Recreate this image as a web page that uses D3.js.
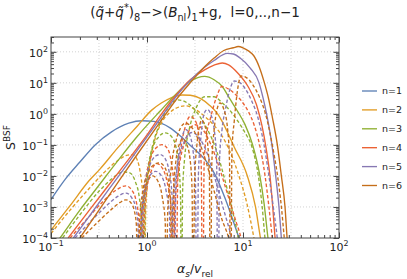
<!DOCTYPE html>
<html>
<head>
<meta charset="utf-8">
<script src="https://d3js.org/d3.v7.min.js"></script>
<style>
  body { margin: 0; background: #fff; }
  text { font-family: "DejaVu Sans", sans-serif; fill: #222; }
</style>
</head>
<body>
<svg id="chart" width="407" height="279"></svg>
<script>
// colours and legend
var colors = ["#5E81B5", "#E19C24", "#8FB032", "#EB6235", "#8778B3", "#C56E1A"];
var legendLabels = ["n=1", "n=2", "n=3", "n=4", "n=5", "n=6"];

// axis ticks
var xMajor = [0.1, 1, 10, 100];
var xExp = ["\u22121", "0", "1", "2"];
var yMajor = [1e-4, 1e-3, 1e-2, 1e-1, 1, 10, 100];
var yExp = ["\u22124", "\u22123", "\u22122", "\u22121", "0", "1", "2"];
var xGrid = [0.316, 1, 3.16, 10, 31.6];

// solid curves [alpha_s/v_rel, S_BSF], one per n
var s1 = [[0.1,1.74e-3],[0.141,7.9e-3],[0.2,0.028],[0.288,0.1],[0.427,0.263],[0.646,0.5],[0.891,0.6],[1.175,0.575],[1.74,0.355],[2.24,0.19],[2.95,0.085],[3.98,0.035],[5.0,0.0126],[6.55,1.8e-3],[7.41,6.3e-4],[9.08,1e-4],[10,4e-5]];
var s2 = [[0.1,1.8e-4],[0.158,1.1e-3],[0.25,7.1e-3],[0.32,0.016],[0.5,0.083],[0.79,0.4],[1.12,1.32],[1.41,2.24],[1.78,3.3],[2.32,4.07],[2.82,3.98],[3.59,3.16],[4.47,1.9],[5.37,1.05],[6.08,0.56],[6.8,0.28],[8.05,0.089],[11.1,0.01],[13.5,1e-3],[15.2,1e-4],[16.6,2.5e-5]];
var s3 = [[0.1,4e-5],[0.124,1e-4],[0.2,7.9e-4],[0.316,5e-3],[0.5,0.0316],[0.794,0.19],[1.38,1.26],[2.0,4.27],[2.82,11.2],[3.98,16.2],[5.0,12.6],[6.08,7.6],[7.24,3.16],[8.71,1.26],[10.5,0.45],[12.6,0.1],[14.8,0.0126],[16.6,1.26e-3],[18.2,1e-4],[19.5,2e-5]];
var s4 = [[0.151,1e-4],[0.251,7.9e-4],[0.398,5e-3],[0.631,0.0316],[1.0,0.209],[1.38,0.89],[2.0,3.98],[2.82,12.6],[3.98,26.3],[5.0,37],[6.08,43.7],[7.08,38],[8.91,20],[11.2,7.9],[13.8,2.0],[15.8,0.4],[17.4,0.079],[19.1,0.01],[20.4,1e-3],[21.6,1e-4],[22.9,2e-5]];
var s5 = [[0.171,1e-4],[0.251,5.1e-4],[0.398,3.6e-3],[0.631,0.0251],[1.0,0.182],[1.38,0.71],[2.0,3.55],[2.82,12],[3.98,31.6],[5.0,52.5],[6.85,89],[7.94,85],[9.33,63],[11.9,30],[14.7,10],[16.2,3.2],[17.6,1.0],[20,0.1],[21.9,0.01],[23.7,1e-3],[25.1,1e-4],[26.3,2e-5]];
var s6 = [[0.2,1e-4],[0.316,7.9e-4],[0.5,6.3e-3],[0.794,0.05],[1.38,0.56],[2.0,2.8],[2.82,10],[3.98,33],[5.0,63],[6.31,110],[7.94,135],[8.91,148],[10,135],[11.5,105],[12.9,76],[14.8,32],[16.6,10.7],[18.6,2.8],[20.2,0.79],[22.8,0.1],[25.1,0.01],[27.4,1e-3],[28.8,1e-4],[30.2,2e-5]];

// dashed curves (other l), zeros drawn as tiny values
var d20 = [[0.1,1.4e-4],[0.158,7.9e-4],[0.251,4e-3],[0.355,0.0126],[0.5,0.032],[0.631,0.047],[0.708,0.048],[0.794,0.032],[0.851,0.0126],[0.902,2.5e-3],[0.933,1e-8],[0.966,5e-4],[1.0,4e-3],[1.07,0.025],[1.2,0.14],[1.41,0.5],[1.78,1.2],[2.14,1.66],[2.51,1.82],[3.16,1.41],[3.98,0.83],[5.0,0.42],[6.08,0.19],[7.41,0.056],[9.08,0.01],[11,1.26e-3],[13,1e-4],[14.1,2.5e-5]];
var d30 = [[0.132,1e-4],[0.2,5.6e-4],[0.316,3.2e-3],[0.447,8.9e-3],[0.562,0.0135],[0.661,0.0126],[0.759,6.3e-3],[0.832,2e-3],[0.871,5e-4],[0.912,1e-8],[0.955,1e-3],[1.0,6.3e-3],[1.122,0.063],[1.318,0.178],[1.549,0.245],[1.82,0.178],[2.042,0.063],[2.188,0.01],[2.239,1.6e-3],[2.291,1e-8],[2.344,2.5e-3],[2.455,0.032],[2.754,0.316],[3.162,1.26],[3.981,3.55],[5.012,3.55],[6.08,2.24],[7.586,1.12],[8.913,0.562],[10.47,0.251],[12.5,0.079],[14.45,0.01],[15.85,1e-3],[16.94,1e-4],[18.2,2e-5]];
var d31 = [[0.5,3.2e-5],[0.708,5e-5],[0.813,3.2e-5],[0.871,1e-8],[0.933,1e-3],[1.0,0.01],[1.148,0.1],[1.349,0.447],[1.585,1.26],[2.089,2.82],[2.63,2.24],[3.311,1.12],[4.169,0.355],[5.248,0.071],[6.31,0.01],[7.586,1e-3],[8.913,1e-4],[9.55,2.5e-5]];
var d40 = [[0.158,1e-4],[0.251,5e-4],[0.355,1.6e-3],[0.479,3.55e-3],[0.603,4.8e-3],[0.692,3.55e-3],[0.776,1.4e-3],[0.822,4e-4],[0.861,1e-8],[0.902,5e-4],[0.955,5e-3],[1.072,0.0316],[1.259,0.083],[1.432,0.102],[1.622,0.079],[1.778,0.0316],[1.905,5e-3],[1.995,1e-8],[2.089,6.3e-3],[2.239,0.063],[2.512,0.398],[2.818,0.83],[3.162,0.63],[3.467,0.2],[3.673,0.02],[3.802,1e-8],[3.936,0.025],[4.169,0.2],[4.571,0.71],[5.248,3.16],[6.026,7.6],[7.079,6.3],[8.511,3.98],[10,2.24],[11.48,1.12],[13.03,0.447],[14.89,0.1],[16.98,0.01],[18.62,1e-3],[20.18,1e-4],[21.38,2e-5]];
var d41 = [[0.501,2.5e-5],[0.759,5e-5],[0.891,1e-8],[0.933,4e-4],[1.0,4e-3],[1.122,0.0158],[1.259,0.025],[1.445,0.0178],[1.622,6.3e-3],[1.778,1e-3],[1.862,1e-8],[1.95,1e-3],[2.138,0.0158],[2.512,0.141],[3.162,0.447],[3.802,0.316],[4.571,0.112],[5.623,0.02],[7.079,2e-3],[8.511,3.2e-4],[9.55,1e-4],[10.47,2.5e-5]];
var d50 = [[0.178,1e-4],[0.282,4.5e-4],[0.398,1.26e-3],[0.501,2.24e-3],[0.603,2.8e-3],[0.692,2e-3],[0.759,1e-3],[0.804,3.2e-4],[0.832,1e-8],[0.871,4e-4],[0.933,4e-3],[1.072,0.0224],[1.23,0.0437],[1.377,0.049],[1.549,0.0355],[1.698,0.0141],[1.82,2.5e-3],[1.905,1e-8],[1.995,4e-3],[2.138,0.05],[2.344,0.2],[2.512,0.316],[2.754,0.224],[3.02,0.063],[3.199,6.3e-3],[3.311,1e-8],[3.428,0.01],[3.631,0.158],[3.981,1.12],[4.266,1.38],[4.571,1.05],[5.012,0.316],[5.309,0.0316],[5.495,1e-8],[5.689,0.0316],[6.026,0.282],[6.607,1.58],[7.244,5.6],[8.128,11.5],[9.333,10],[10.72,6.0],[12.3,2.63],[14.09,0.89],[16.56,0.1],[18.62,0.01],[20.89,7.9e-4],[22.75,1e-4],[23.99,2e-5]];
var d51 = [[0.501,1.6e-5],[0.724,5e-5],[0.851,1e-8],[0.891,3.2e-4],[0.977,4e-3],[1.096,0.0112],[1.23,0.0141],[1.413,0.01],[1.585,3.2e-3],[1.718,5e-4],[1.778,1e-8],[1.862,1e-3],[2.042,0.0158],[2.399,0.112],[2.951,0.251],[3.548,0.158],[4.266,0.05],[5.129,7.9e-3],[6.31,7.9e-4],[7.586,1e-4],[8.318,2.5e-5]];
var d60 = [[0.209,1e-4],[0.316,3.55e-4],[0.417,7.9e-4],[0.525,1.4e-3],[0.603,1.7e-3],[0.676,1.4e-3],[0.741,7.1e-4],[0.776,2.5e-4],[0.804,1e-8],[0.832,2.5e-4],[0.891,2.5e-3],[1.047,0.0141],[1.202,0.024],[1.349,0.0263],[1.514,0.02],[1.66,7.9e-3],[1.758,1.6e-3],[1.82,1e-8],[1.884,2.5e-3],[1.995,0.028],[2.188,0.112],[2.344,0.158],[2.57,0.112],[2.818,0.0316],[2.951,3.2e-3],[3.02,1e-8],[3.126,6.3e-3],[3.311,0.1],[3.548,0.447],[3.715,0.631],[3.981,0.447],[4.266,0.126],[4.467,0.01],[4.571,1e-8],[4.732,0.025],[5.012,0.316],[5.37,1.41],[5.754,2.24],[6.31,1.41],[6.918,0.316],[7.244,0.025],[7.413,1e-8],[7.674,0.063],[8.128,0.631],[8.71,5.0],[9.55,16.6],[10.72,15.1],[12.59,8.9],[14.79,3.55],[17.18,1.0],[20.18,0.1],[22.91,0.01],[25.12,1e-3],[26.92,1e-4],[28.18,2.5e-5]];
var d61 = [[0.501,1e-5],[0.708,5e-5],[0.822,1e-8],[0.861,2.5e-4],[0.933,2.5e-3],[1.047,7.9e-3],[1.148,0.01],[1.288,7.1e-3],[1.445,2e-3],[1.549,3.2e-4],[1.585,1e-8],[1.641,6.3e-4],[1.778,0.0158],[1.995,0.126],[2.239,0.355],[2.512,0.5],[2.951,0.355],[3.548,0.112],[4.266,0.02],[5.012,3.2e-3],[6.026,4e-4],[7.079,1e-4],[7.762,2.5e-5]];

var curves = [
  {n: 1, dash: false, pts: s1},
  {n: 2, dash: true, pts: d20},
  {n: 2, dash: false, pts: s2},
  {n: 3, dash: true, pts: d30},
  {n: 3, dash: true, pts: d31},
  {n: 3, dash: false, pts: s3},
  {n: 4, dash: true, pts: d40},
  {n: 4, dash: true, pts: d41},
  {n: 4, dash: false, pts: s4},
  {n: 5, dash: true, pts: d50},
  {n: 5, dash: true, pts: d51},
  {n: 5, dash: false, pts: s5},
  {n: 6, dash: true, pts: d60},
  {n: 6, dash: true, pts: d61},
  {n: 6, dash: false, pts: s6}
];

var margin = {top: 37, right: 68, bottom: 41, left: 51},
    width = 407 - margin.left - margin.right,
    height = 279 - margin.top - margin.bottom;

var svg = d3.select("#chart");
var g = svg.append("g")
    .attr("transform", "translate(" + margin.left + "," + margin.top + ")");

var x = d3.scaleLog().domain([0.1, 100]).range([0, width]);
var y = d3.scaleLog().domain([1e-4, 300]).range([height, 0]);

// write text with italic / sub / superscript pieces
function rich(sel, parts, base) {
  var shift = 0;
  parts.forEach(function(p) {
    var st = p[1] || "", target = 0, size = base;
    if (st.indexOf("sup") >= 0) { target = -base * 0.42; size = base * 0.72; }
    if (st.indexOf("sub") >= 0) { target = base * 0.28; size = base * 0.72; }
    var t = sel.append("tspan").text(p[0])
        .attr("dy", target - shift)
        .attr("font-size", size);
    if (st.indexOf("it") >= 0) t.attr("font-style", "italic");
    shift = target;
  });
}

// grid
g.append("g").selectAll("line").data(xGrid).enter().append("line")
    .attr("x1", function(d) { return x(d); }).attr("x2", function(d) { return x(d); })
    .attr("y1", 0).attr("y2", height)
    .attr("stroke", "#c8c8c8").attr("stroke-width", 0.8).attr("stroke-dasharray", "1,2");
g.append("g").selectAll("line").data(yMajor.slice(1)).enter().append("line")
    .attr("y1", function(d) { return y(d); }).attr("y2", function(d) { return y(d); })
    .attr("x1", 0).attr("x2", width)
    .attr("stroke", "#c8c8c8").attr("stroke-width", 0.8).attr("stroke-dasharray", "1,2");

// curves
svg.append("defs").append("clipPath").attr("id", "clip")
  .append("rect").attr("width", width).attr("height", height);

var line = d3.line()
    .x(function(d) { return x(d[0]); })
    .y(function(d) { return y(d[1]); })
    .curve(d3.curveMonotoneX);

g.append("g").attr("clip-path", "url(#clip)")
  .selectAll("path").data(curves).enter().append("path")
    .attr("d", function(d) { return line(d.pts); })
    .attr("fill", "none")
    .attr("stroke", function(d) { return colors[d.n - 1]; })
    .attr("stroke-width", 1.35)
    .attr("stroke-dasharray", function(d) { return d.dash ? "3.5,2.2" : null; });

// ticks on all four sides, pointing in
var notMajor = function(v) { var l = Math.log10(v); return Math.abs(l - Math.round(l)) > 1e-6; };
var xMinor = x.ticks().filter(notMajor);
var yMinor = y.ticks().filter(notMajor);

function ticks(axis, major, minor, tr) {
  var a = g.append("g").attr("transform", tr).attr("class", "tk");
  a.call(axis(major ? null : null));
}
var sides = [
  [d3.axisBottom, x, "translate(0," + height + ")", xMajor, xMinor],
  [d3.axisTop, x, "translate(0,0)", xMajor, xMinor],
  [d3.axisLeft, y, "translate(0,0)", yMajor, yMinor],
  [d3.axisRight, y, "translate(" + width + ",0)", yMajor, yMinor]
];
sides.forEach(function(s) {
  g.append("g").attr("transform", s[2])
    .call(s[0](s[1]).tickValues(s[3]).tickSize(-5.5).tickFormat(""))
    .call(function(a) { a.select(".domain").remove(); });
  g.append("g").attr("transform", s[2])
    .call(s[0](s[1]).tickValues(s[4]).tickSize(-3).tickFormat(""))
    .call(function(a) { a.select(".domain").remove(); });
});
g.selectAll(".tick line").attr("stroke", "#444");

g.append("rect").attr("width", width).attr("height", height)
    .attr("fill", "none").attr("stroke", "#444").attr("stroke-width", 1);

// tick labels
xMajor.forEach(function(v, i) {
  var t = g.append("text").attr("x", x(v)).attr("y", height + 13)
      .attr("text-anchor", "middle");
  rich(t, [["10"], [xExp[i], "sup"]], 11);
});
yMajor.forEach(function(v, i) {
  var t = g.append("text").attr("x", -3).attr("y", y(v) + 5)
      .attr("text-anchor", "end");
  rich(t, [["10"], [yExp[i], "sup"]], 11);
});

// title
var title = svg.append("text").attr("x", margin.left + width / 2).attr("y", 17)
    .attr("text-anchor", "middle").attr("xml:space", "preserve")
    .style("white-space", "pre");
rich(title, [["("], ["q\u0303", "it"], ["+"], ["q\u0303", "it"], ["*", "sup"], [")"], ["8", "sub"],
             ["\u2212>("], ["B", "it"], ["nl", "sub"], [")"], ["1", "sub"], ["+g,  l=0,..,n\u22121"]], 13.5);

// axis titles
var xl = svg.append("text").attr("x", margin.left + width / 2).attr("y", 273)
    .attr("text-anchor", "middle");
rich(xl, [["\u03b1", "it"], ["s", "itsub"], ["/"], ["v", "it"], ["rel", "sub"]], 12.5);

var yl = svg.append("text")
    .attr("transform", "translate(15," + (margin.top + height / 2) + ") rotate(-90)")
    .attr("text-anchor", "middle");
rich(yl, [["S"], ["BSF", "sup"]], 12.5);

// legend
var leg = svg.append("g").selectAll("g").data(legendLabels).enter().append("g")
    .attr("transform", function(d, i) { return "translate(362," + (91 + i * 18.9) + ")"; });
leg.append("line").attr("x1", 0).attr("x2", 15)
    .attr("stroke", function(d, i) { return colors[i]; }).attr("stroke-width", 1.35);
leg.append("text").attr("x", 20).attr("y", 3.3).attr("font-size", 9.5).text(function(d) { return d; });
</script>
</body>
</html>
